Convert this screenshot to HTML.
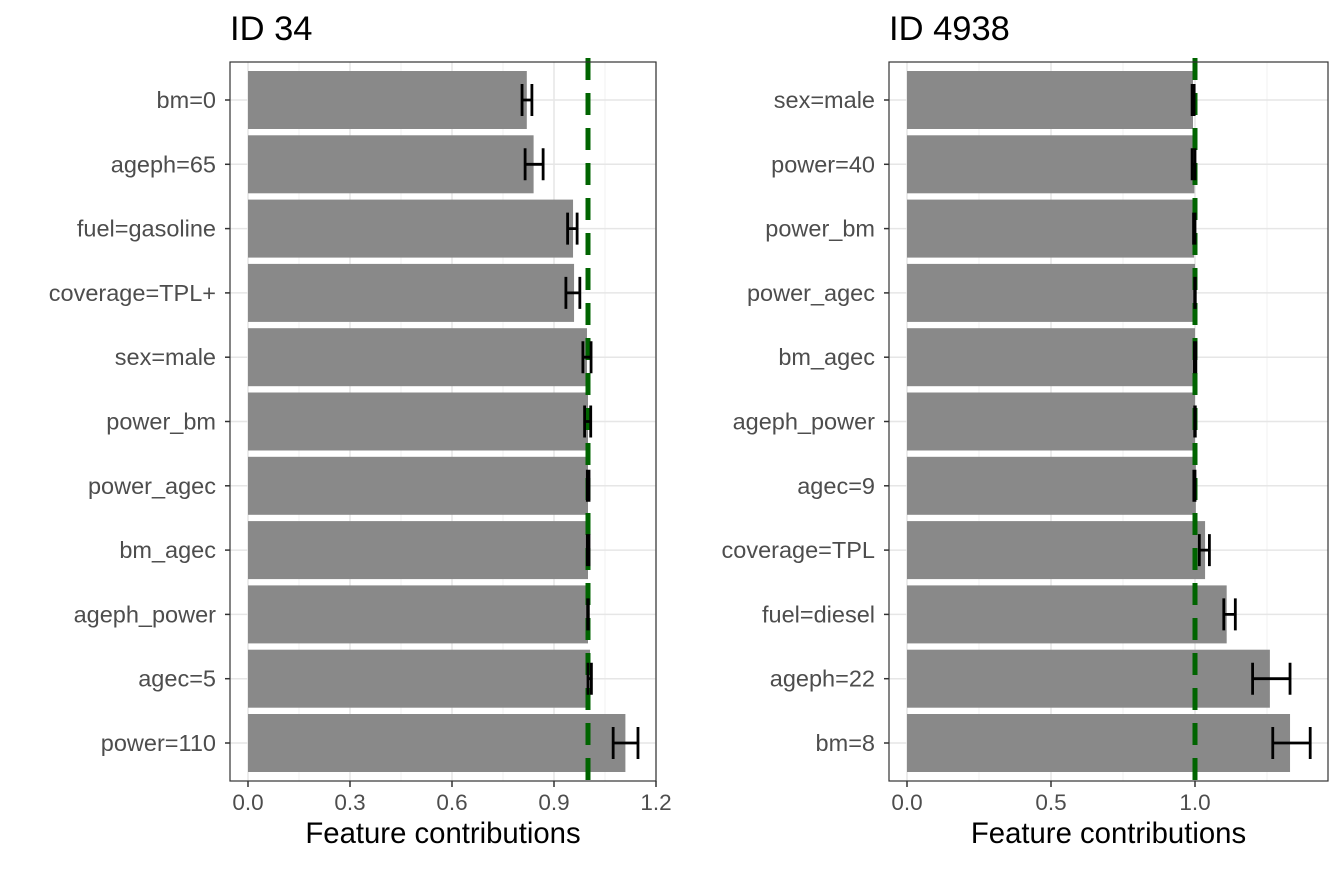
<!DOCTYPE html>
<html><head><meta charset="utf-8"><style>
body{margin:0;background:#fff}
svg text{font-family:"Liberation Sans",Arial,sans-serif}
</style></head><body>
<svg id="chart" width="1344" height="865" xmlns="http://www.w3.org/2000/svg"></svg>
<script>
const catsA=["bm=0","ageph=65","fuel=gasoline","coverage=TPL+","sex=male","power_bm","power_agec","bm_agec","ageph_power","agec=5","power=110"];
const valsA=[0.82,0.84,0.956,0.959,0.997,1.0,1.0,1.0,1.0,1.006,1.11];
const loA=[0.806,0.815,0.94,0.935,0.985,0.99,0.998,0.998,0.999,1.0,1.074];
const hiA=[0.835,0.868,0.968,0.976,1.009,1.008,1.003,1.003,1.001,1.01,1.147];
const ticksA=[0,0.3,0.6,0.9,1.2];
const tickLabA=["0.0","0.3","0.6","0.9","1.2"];
const catsB=["sex=male","power=40","power_bm","power_agec","bm_agec","ageph_power","agec=9","coverage=TPL","fuel=diesel","ageph=22","bm=8"];
const valsB=[0.993,0.998,0.997,1.0,1.0,1.0,1.003,1.035,1.11,1.26,1.33];
const loB=[0.99,0.99,0.995,0.999,0.998,0.999,0.996,1.015,1.10,1.20,1.27];
const hiB=[0.997,1.0,1.0,1.001,1.003,1.001,1.0,1.05,1.14,1.33,1.40];
const ticksB=[0,0.5,1.0];
const tickLabB=["0.0","0.5","1.0"];
const svg=document.getElementById('chart');
const NS="http://www.w3.org/2000/svg";
function mk(t,a,txt){const e=document.createElementNS(NS,t);for(const k in a)e.setAttribute(k,a[k]);if(txt!==undefined)e.textContent=txt;svg.appendChild(e);return e;}
function panel(p){
  const x=v=>p.x0+(v-0)*p.ppu;
  const y=i=>100+i*64.3;
  const bg=mk('rect',{x:p.L,y:62,width:p.R-p.L,height:719,fill:'#fff'});
  
  for(let i=0;i<p.ticks.length;i++){const m=p.ticks[i]+p.step/2;if(x(m)<p.R){const g=mk('line',{x1:x(m),x2:x(m),y1:62,y2:781,stroke:'#f0f0f0','stroke-width':1});}}
  p.ticks.forEach((t,i)=>{const g=mk('line',{x1:x(t),x2:x(t),y1:62,y2:781,stroke:'#e6e6e6','stroke-width':1.5});
    const tk=mk('line',{x1:x(t),x2:x(t),y1:781,y2:787,stroke:'#333','stroke-width':1.5});
    const l=mk('text',{x:x(t),y:810,'text-anchor':'middle','font-size':22.5,fill:'#4d4d4d'},p.labs[i]);});
  p.cats.forEach((c,i)=>{const g=mk('line',{x1:p.L,x2:p.R,y1:y(i),y2:y(i),stroke:'#e6e6e6','stroke-width':1.5});});
  p.cats.forEach((c,i)=>{
    const b=mk('rect',{x:x(0),y:y(i)-29,width:x(p.vals[i])-x(0),height:58,fill:'#898989'});
    
  });
  const d=mk('line',{x1:x(1),x2:x(1),y1:58,y2:781,stroke:'#006400','stroke-width':5,'stroke-dasharray':'22,13'});
  
  p.cats.forEach((c,i)=>{
    const g=document.createElementNS(NS,'path');
    const a=x(p.lo[i]),b=x(p.hi[i]),yy=y(i);
    g.setAttribute('d',`M${a},${yy-16}V${yy+16}M${b},${yy-16}V${yy+16}M${a},${yy}H${b}`);
    g.setAttribute('stroke','#000');g.setAttribute('stroke-width',2.8);g.setAttribute('fill','none');
    
    
    svg.appendChild(g);
    const t=mk('line',{x1:p.L-5,x2:p.L,y1:yy,y2:yy,stroke:'#333','stroke-width':1.5});
    const l=mk('text',{x:p.L-14,y:yy+8,'text-anchor':'end','font-size':23.5,fill:'#4d4d4d'},c);
  });
  const fr=mk('rect',{x:p.L,y:62,width:p.R-p.L,height:719,fill:'none',stroke:'#333','stroke-width':1.2});
  
  const ti=mk('text',{x:p.L,y:40,'font-size':34.5,fill:'#000'},p.title);
  const at=mk('text',{x:(p.L+p.R)/2,y:843,'text-anchor':'middle','font-size':29.3,fill:'#000'},'Feature contributions');
}
panel({id:'id34',title:'ID 34',L:230,R:656,x0:248,ppu:340,step:0.3,ticks:ticksA,labs:tickLabA,cats:catsA,vals:valsA,lo:loA,hi:hiA});
panel({id:'id4938',title:'ID 4938',L:889,R:1328,x0:907,ppu:288,step:0.5,ticks:ticksB,labs:tickLabB,cats:catsB,vals:valsB,lo:loB,hi:hiB});
</script>
</body></html>
